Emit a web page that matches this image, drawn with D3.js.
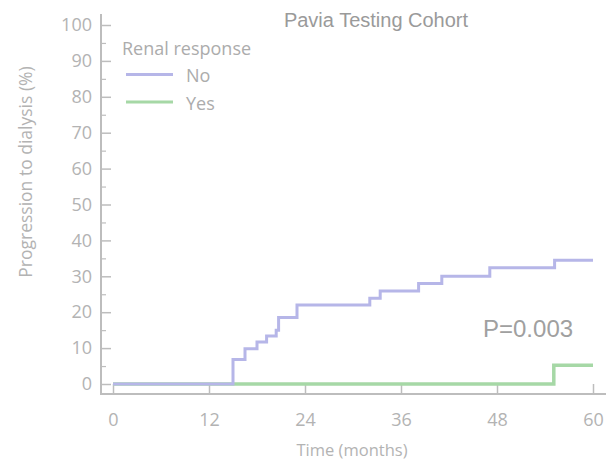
<!DOCTYPE html>
<html>
<head>
<meta charset="utf-8">
<script src="https://cdn.jsdelivr.net/npm/d3@7"></script>
<style>
  body { margin: 0; background: #fff; }
  svg { display: block; }
  .tick text { font-family: "Open Sans", sans-serif; fill: #b3b3b3; }
</style>
</head>
<body>
<svg id="chart" width="609" height="464"></svg>
<script>
// step curves (months, %)
var noTimes  = [0, 15, 16.5, 18, 19.2, 20.4, 20.7, 23, 32.1, 33.4, 38.2, 41.1, 47.1, 55.2, 60];
var noValues = [0, 6.8, 9.8, 11.7, 13.4, 15, 18.5, 22, 23.9, 25.9, 28, 30, 32.4, 34.5, 34.5];
var yesTimes  = [0, 55.1, 60];
var yesValues = [0, 5.2, 5.2];

var xTicks = [0, 12, 24, 36, 48, 60];
var yTicks = [0, 10, 20, 30, 40, 50, 60, 70, 80, 90, 100];
var yMinor = [5, 15, 25, 35, 45, 55, 65, 75, 85, 95];

var svg = d3.select("#chart");
var axisColor = "#bdbdbd";

var x = d3.scaleLinear().domain([0, 60]).range([113, 593]);
var y = d3.scaleLinear().domain([0, 100]).range([384, 25]);

// axis frame lines
svg.append("line")
  .attr("x1", 101).attr("x2", 101).attr("y1", 14).attr("y2", 394)
  .attr("stroke", axisColor).attr("stroke-width", 2);
svg.append("line")
  .attr("x1", 100).attr("x2", 606).attr("y1", 394).attr("y2", 394)
  .attr("stroke", axisColor).attr("stroke-width", 2);

// y axis, ticks point inward
var yAxis = svg.append("g")
  .attr("transform", "translate(101,0)")
  .call(d3.axisLeft(y).tickValues(yTicks).tickSizeInner(-10).tickSizeOuter(0).tickPadding(9));
yAxis.select(".domain").remove();
yAxis.selectAll(".tick line").attr("stroke", axisColor).attr("stroke-width", 1.5);
yAxis.selectAll(".tick text").style("font-size", "18px");

var yMinorAxis = svg.append("g")
  .attr("transform", "translate(101,0)")
  .call(d3.axisLeft(y).tickValues(yMinor).tickSizeInner(-5).tickSizeOuter(0).tickFormat(""));
yMinorAxis.select(".domain").remove();
yMinorAxis.selectAll(".tick line").attr("stroke", axisColor).attr("stroke-width", 1.2);

// x axis
var xAxis = svg.append("g")
  .attr("transform", "translate(0,394)")
  .call(d3.axisBottom(x).tickValues(xTicks).tickSizeInner(-10).tickSizeOuter(0).tickPadding(19));
xAxis.select(".domain").remove();
xAxis.selectAll(".tick line").attr("stroke", axisColor).attr("stroke-width", 1.5);
xAxis.selectAll(".tick text").style("font-size", "18px");

// curves
var line = d3.line()
  .x(function(d) { return x(d[0]); })
  .y(function(d) { return y(d[1]); })
  .curve(d3.curveStepAfter);

svg.append("path")
  .datum(d3.zip(yesTimes, yesValues))
  .attr("d", line)
  .attr("fill", "none")
  .attr("stroke", "#a6d8a6")
  .attr("stroke-width", 3.5);

svg.append("path")
  .datum(d3.zip(noTimes, noValues))
  .attr("d", line)
  .attr("fill", "none")
  .attr("stroke", "#b6b6e8")
  .attr("stroke-width", 3);

// title and p-value
svg.append("text")
  .attr("x", 376).attr("y", 27)
  .attr("text-anchor", "middle")
  .style("font-family", "'Liberation Sans', Arial, sans-serif")
  .style("font-size", "20px")
  .attr("fill", "#9a9a9a")
  .text("Pavia Testing Cohort");

svg.append("text")
  .attr("x", 483).attr("y", 337)
  .style("font-family", "'Liberation Sans', Arial, sans-serif")
  .style("font-size", "24px")
  .attr("fill", "#a0a0a0")
  .text("P=0.003");

// axis titles
svg.append("text")
  .attr("x", 352).attr("y", 456)
  .attr("text-anchor", "middle")
  .style("font-family", "'Open Sans', sans-serif")
  .style("font-size", "16.5px")
  .attr("fill", "#b3b3b3")
  .text("Time (months)");

svg.append("text")
  .attr("transform", "translate(32,172) rotate(-90)")
  .attr("text-anchor", "middle")
  .style("font-family", "'Open Sans', sans-serif")
  .style("font-size", "17.5px")
  .attr("fill", "#b3b3b3")
  .text("Progression to dialysis (%)");

// legend
var legend = svg.append("g");
legend.append("text")
  .attr("x", 122).attr("y", 55)
  .style("font-family", "'Open Sans', sans-serif")
  .style("font-size", "18px")
  .attr("fill", "#acacac")
  .text("Renal response");

var legendItems = [["No", "#b6b6e8", 74.5], ["Yes", "#a6d8a6", 102]];
legendItems.forEach(function(d) {
  legend.append("line")
    .attr("x1", 126).attr("x2", 173).attr("y1", d[2]).attr("y2", d[2])
    .attr("stroke", d[1]).attr("stroke-width", 3);
  legend.append("text")
    .attr("x", 186).attr("y", d[2] + 7.5)
    .style("font-family", "'Open Sans', sans-serif")
    .style("font-size", "18px")
    .attr("fill", "#acacac")
    .text(d[0]);
});
</script>
</body>
</html>
